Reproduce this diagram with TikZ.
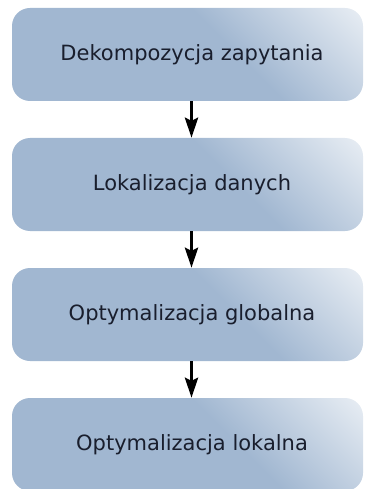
\documentclass[tikz,border=0pt]{standalone}
\usepackage{fontspec}
\setmainfont{DejaVu Sans}
\usetikzlibrary{arrows.meta}
\definecolor{boxblue}{RGB}{161,183,209}
\definecolor{txt}{RGB}{25,30,45}
\pgfdeclarehorizontalshading{boxshade}{100bp}{color(0bp)=(boxblue); color(58bp)=(boxblue); color(94bp)=(white); color(100bp)=(white)}
\tikzset{
  stage/.style={rounded corners=18pt, minimum width=351pt, minimum height=93pt,
    shade, shading=boxshade, shading angle=45, text=txt,
    font=\fontsize{21}{25}\selectfont, inner sep=0pt},
  flow/.style={line width=3.5pt, -{Stealth[length=20pt,width=13pt,inset=3pt]}}
}
\begin{document}
\begin{tikzpicture}
\useasboundingbox (0,0) rectangle (364pt,-489pt);
\node[stage] (a) at (187.5pt,-54.5pt) {\kern9pt Dekompozycja zapytania};
\node[stage] (b) at (187.5pt,-184.5pt) {\kern9pt Lokalizacja danych};
\node[stage] (c) at (187.5pt,-314.5pt) {\kern9pt Optymalizacja globalna};
\node[stage] (d) at (187.5pt,-444.5pt) {\kern9pt Optymalizacja lokalna};
\draw[flow] ([xshift=4pt]a.south) -- ([xshift=4pt]b.north);
\draw[flow] ([xshift=4pt]b.south) -- ([xshift=4pt]c.north);
\draw[flow] ([xshift=4pt]c.south) -- ([xshift=4pt]d.north);
\end{tikzpicture}
\end{document}
